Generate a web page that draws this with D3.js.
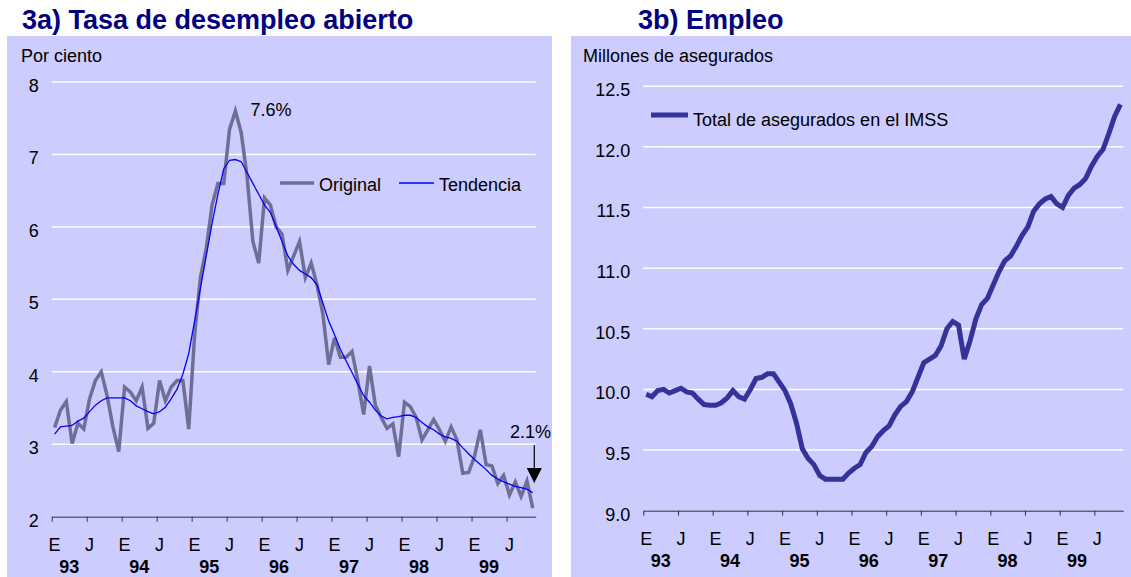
<!DOCTYPE html>
<html>
<head>
<meta charset="utf-8">
<script src="https://cdn.jsdelivr.net/npm/d3@7"></script>
<style>
  body { margin: 0; background: #ffffff; }
  svg text { font-family: "Liberation Sans", Arial, sans-serif; fill: #000000; }
  .title { font-size: 27px; font-weight: bold; fill: #000080; }
  .lbl { font-size: 18px; }
  .year { font-size: 18px; font-weight: bold; }
</style>
</head>
<body>
<script>

// month labels (E = enero, J = julio) and years shown under the axis
var yearLabels = ["93", "94", "95", "96", "97", "98", "99"];
var halfLabels = ["E", "J"];

// 3a) tasa de desempleo abierto, enero 93 a noviembre 99
var original = [
  3.23, 3.47, 3.59, 3.01, 3.29, 3.21, 3.63, 3.88, 4.0, 3.67, 3.24, 2.9,
  3.79, 3.72, 3.6, 3.79, 3.22, 3.29, 3.88, 3.6, 3.79, 3.88, 3.88, 3.21,
  4.5, 5.3, 5.7, 6.3, 6.6, 6.6, 7.35, 7.6, 7.3, 6.7, 5.8, 5.5,
  6.4, 6.3, 6.0, 5.9, 5.4, 5.6, 5.8, 5.3, 5.5, 5.2, 4.8, 4.1,
  4.47, 4.2, 4.2, 4.28, 3.88, 3.41, 4.08, 3.54, 3.37, 3.22, 3.28, 2.83,
  3.58, 3.52, 3.37, 3.06, 3.2, 3.34, 3.2, 3.04, 3.24, 3.06, 2.6, 2.61,
  2.83, 3.2, 2.72, 2.7, 2.46, 2.57, 2.3, 2.48, 2.28, 2.49, 2.12
];
var tendencia = [
  3.14, 3.24, 3.25, 3.26, 3.32, 3.36, 3.45, 3.54, 3.6, 3.64, 3.64, 3.64,
  3.64, 3.6, 3.53, 3.49, 3.45, 3.42, 3.45, 3.51, 3.63, 3.76, 3.97, 4.25,
  4.7, 5.15, 5.6, 6.05, 6.45, 6.8, 6.92, 6.93, 6.9, 6.75, 6.6, 6.45,
  6.3, 6.2, 6.0, 5.8, 5.6, 5.48, 5.4, 5.35, 5.3, 5.2, 4.95, 4.7,
  4.51, 4.31, 4.15, 3.99, 3.83, 3.67, 3.58, 3.47, 3.39, 3.35, 3.37, 3.38,
  3.4, 3.4, 3.37, 3.3, 3.24, 3.2, 3.14, 3.1, 3.08, 3.04, 2.95, 2.87,
  2.79, 2.72, 2.65, 2.57, 2.52, 2.48, 2.45, 2.42, 2.4, 2.38, 2.33
];
var desempleoTicks = [2, 3, 4, 5, 6, 7, 8];

// 3b) total de asegurados en el IMSS, millones
var asegurados = [
  9.96, 9.94, 9.99, 10.0, 9.97, 9.99, 10.01, 9.98, 9.97, 9.92, 9.875, 9.87,
  9.87, 9.89, 9.93, 9.99, 9.94, 9.92, 10.0, 10.09, 10.1, 10.13, 10.13, 10.06,
  9.99, 9.88, 9.72, 9.51, 9.43, 9.38, 9.29, 9.26, 9.26, 9.26, 9.26, 9.31,
  9.35, 9.38, 9.48, 9.53, 9.61, 9.66, 9.7, 9.79, 9.86, 9.9, 9.98, 10.1,
  10.22, 10.25, 10.28, 10.36, 10.5, 10.56, 10.53, 10.25, 10.4, 10.58, 10.7, 10.75,
  10.86, 10.97, 11.06, 11.1, 11.18, 11.27, 11.34, 11.47, 11.53, 11.57, 11.59, 11.53,
  11.5, 11.6, 11.66, 11.69, 11.74, 11.84, 11.92, 11.98, 12.11, 12.25, 12.35
];
var empleoTicks = [9.0, 9.5, 10.0, 10.5, 11.0, 11.5, 12.0, 12.5];

var nMonths = original.length;

var svg = d3.select("body").append("svg")
  .attr("width", 1131)
  .attr("height", 577);

// panel backgrounds
svg.append("rect").attr("x", 7).attr("y", 36).attr("width", 545).attr("height", 541).attr("fill", "#ccccff");
svg.append("rect").attr("x", 571).attr("y", 36).attr("width", 560).attr("height", 541).attr("fill", "#ccccff");

// titles
svg.append("text").attr("class", "title").attr("x", 22).attr("y", 29).text("3a) Tasa de desempleo abierto");
svg.append("text").attr("class", "title").attr("x", 638).attr("y", 29).text("3b) Empleo");

// draws gridlines, axis and month/year labels for one panel
function drawFrame(g, x, y, ticks, fmt, unitLabel, labelX)
{
  var x0 = x.range()[0], x1 = x.range()[1];

  g.selectAll(".grid").data(ticks.slice(1)).enter().append("line")
    .attr("x1", x0).attr("x2", x1)
    .attr("y1", function(d) { return y(d); })
    .attr("y2", function(d) { return y(d); })
    .attr("stroke", "#ffffff").attr("stroke-width", 1.5);

  g.selectAll(".ylab").data(ticks).enter().append("text")
    .attr("class", "lbl")
    .attr("x", x0 - 13)
    .attr("y", function(d) { return y(d) + 10; })
    .attr("text-anchor", "end")
    .text(fmt);

  g.append("text").attr("class", "lbl").attr("x", labelX).attr("y", 62).text(unitLabel);

  var tickVals = d3.range(0, nMonths, 6);
  g.append("g")
    .attr("transform", "translate(0," + y(ticks[0]) + ")")
    .call(d3.axisBottom(x).tickValues(tickVals).tickFormat("").tickSize(5).tickSizeOuter(0))
    .call(function(a) {
      a.select(".domain").attr("stroke", "#333333");
      a.selectAll(".tick line").attr("stroke", "#333333");
    });

  var base = y(ticks[0]);
  var half = d3.range(0, nMonths, 6);
  g.selectAll(".mlab").data(half).enter().append("text")
    .attr("class", "lbl")
    .attr("x", function(d) { return x(d + 0.5); })
    .attr("y", base + 34)
    .attr("text-anchor", "middle")
    .text(function(d) { return halfLabels[(d / 6) % 2]; });

  g.selectAll(".ylab2").data(yearLabels).enter().append("text")
    .attr("class", "year")
    .attr("x", function(d, i) { return x(i * 12 + 3); })
    .attr("y", base + 56)
    .attr("text-anchor", "middle")
    .text(function(d) { return d; });
}

// left panel: desempleo
var left = svg.append("g");
var xl = d3.scaleLinear().domain([0, nMonths]).range([51.7, 535.7]);
var yl = d3.scaleLinear().domain([2, 8]).range([516.7, 82]);
drawFrame(left, xl, yl, desempleoTicks, d3.format("d"), "Por ciento", 21);

var linel = d3.line()
  .x(function(d, i) { return xl(i + 0.5); })
  .y(function(d) { return yl(d); });

left.append("path").datum(original)
  .attr("d", linel).attr("fill", "none")
  .attr("stroke", "#6e6e96").attr("stroke-width", 3.5).attr("stroke-linejoin", "miter");
left.append("path").datum(tendencia)
  .attr("d", linel).attr("fill", "none")
  .attr("stroke", "#0000ff").attr("stroke-width", 1.3);

// legend
left.append("line").attr("x1", 280).attr("x2", 314).attr("y1", 183).attr("y2", 183)
  .attr("stroke", "#6e6e96").attr("stroke-width", 3.5);
left.append("text").attr("class", "lbl").attr("x", 319).attr("y", 191).text("Original");
left.append("line").attr("x1", 399).attr("x2", 434).attr("y1", 183).attr("y2", 183)
  .attr("stroke", "#0000ff").attr("stroke-width", 1.3);
left.append("text").attr("class", "lbl").attr("x", 439).attr("y", 191).text("Tendencia");

// annotations: peak and last value
var peak = d3.maxIndex(original);
left.append("text").attr("class", "lbl")
  .attr("x", xl(peak + 0.5) + 15).attr("y", yl(original[peak]) + 5)
  .text(d3.format(".1f")(original[peak]) + "%");
var last = nMonths - 1;
var ax = xl(last + 0.5) + 1.5;
left.append("text").attr("class", "lbl").attr("x", 510).attr("y", 438)
  .text(d3.format(".1f")(original[last]) + "%");
left.append("line").attr("x1", ax).attr("x2", ax).attr("y1", 445).attr("y2", 469)
  .attr("stroke", "#000000").attr("stroke-width", 1.2);
left.append("path")
  .attr("d", "M" + (ax - 7.5) + ",468 L" + (ax + 7.5) + ",468 L" + ax + ",483 Z")
  .attr("fill", "#000000");

// right panel: empleo
var right = svg.append("g");
var xr = d3.scaleLinear().domain([0, nMonths]).range([643.3, 1123.3]);
var yr = d3.scaleLinear().domain([9, 12.5]).range([510.7, 86.2]);
drawFrame(right, xr, yr, empleoTicks, d3.format(".1f"), "Millones de asegurados", 583);

var liner = d3.line()
  .x(function(d, i) { return xr(i + 0.5); })
  .y(function(d) { return yr(d); });

right.append("path").datum(asegurados)
  .attr("d", liner).attr("fill", "none")
  .attr("stroke", "#333399").attr("stroke-width", 5);

right.append("line").attr("x1", 651).attr("x2", 688).attr("y1", 115).attr("y2", 115)
  .attr("stroke", "#333399").attr("stroke-width", 5);
right.append("text").attr("class", "lbl").attr("x", 693).attr("y", 126).text("Total de asegurados en el IMSS");

</script>
</body>
</html>
